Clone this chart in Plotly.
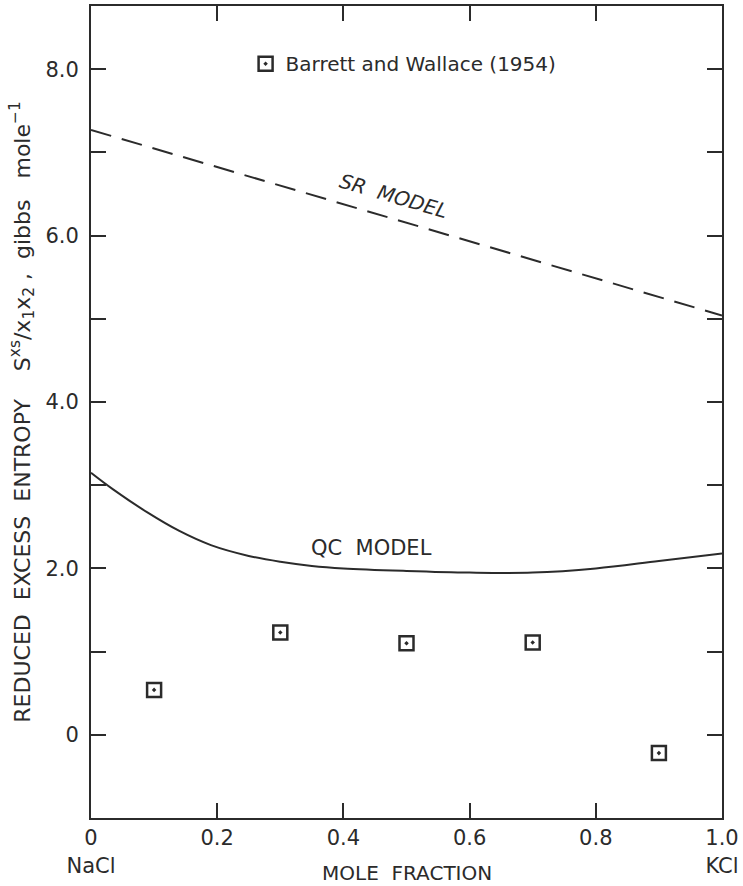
import plotly.graph_objects as go

# ---- data ----
sr_x = [0.0, 1.0]
sr_y = [7.27, 5.04]

qc_x = [0.0, 0.035, 0.09, 0.14, 0.19, 0.25, 0.30, 0.35, 0.40, 0.50, 0.60, 0.70, 0.80, 0.90, 1.0]
qc_y = [3.15, 2.95, 2.67, 2.45, 2.28, 2.15, 2.08, 2.03, 2.00, 1.97, 1.95, 1.95, 2.00, 2.09, 2.18]

bw_x = [0.1, 0.3, 0.5, 0.7, 0.9]
bw_y = [0.54, 1.23, 1.10, 1.11, -0.22]

x_tickvals = [0, 0.2, 0.4, 0.6, 0.8, 1.0]
x_ticktext = ["0<br>NaCl", "0.2", "0.4", "0.6", "0.8", "1.0<br>KCl"]
y_tickvals = [0, 2, 4, 6, 8]
y_ticktext = ["0", "2.0", "4.0", "6.0", "8.0"]

INK = "#2b2b2b"
FONT = "DejaVu Sans"
NB = "\u00a0"

fig = go.Figure()
fig.add_trace(go.Scatter(x=sr_x, y=sr_y, mode="lines",
                         line=dict(color=INK, width=2, dash="21px,11px"),
                         showlegend=False, hoverinfo="skip"))
fig.add_trace(go.Scatter(x=qc_x, y=qc_y, mode="lines",
                         line=dict(color=INK, width=2, shape="spline", smoothing=1.0),
                         showlegend=False, hoverinfo="skip"))
fig.add_trace(go.Scatter(x=bw_x, y=bw_y, mode="markers",
                         name="Barrett" + NB + "and" + NB + "Wallace" + NB + "(1954)",
                         marker=dict(symbol="square-open-dot", size=14,
                                     color=INK, line=dict(color=INK, width=2.5))))

fig.add_annotation(x=0.48, y=6.48, text="<i>SR" + NB * 2 + "MODEL</i>", showarrow=False,
                   textangle=16.4, font=dict(family=FONT, size=20, color=INK))
fig.add_annotation(x=0.444, y=2.25, text="QC" + NB * 2 + "MODEL", showarrow=False,
                   font=dict(family=FONT, size=21, color=INK))
fig.add_annotation(x=0.5, y=0, xref="paper", yref="paper", yanchor="middle",
                   yshift=-55, text="MOLE" + NB * 2 + "FRACTION", showarrow=False,
                   font=dict(family=FONT, size=20, color=INK))

axis_common = dict(showgrid=False, zeroline=False, showline=True, linecolor=INK,
                   linewidth=2, mirror="ticks", ticks="inside", tickcolor=INK,
                   tickwidth=1.5, ticklen=15,
                   tickfont=dict(family=FONT, size=21, color=INK))

fig.update_xaxes(range=[0, 1.0], tickvals=x_tickvals, ticktext=x_ticktext,
                 ticklabelstandoff=0, **axis_common)
ytitle = ("REDUCED" + NB * 2 + "EXCESS" + NB * 2 + "ENTROPY" + NB * 4 +
          "S<sup>xs</sup>/x<sub>1</sub>x<sub>2</sub>" + NB + "," + NB * 2 +
          "gibbs" + NB * 3 + "mole<sup>−1</sup>")
fig.update_yaxes(range=[-1.0, 8.76], tickvals=y_tickvals, ticktext=y_ticktext,
                 ticklabelstandoff=6,
                 minor=dict(tickvals=[1, 3, 5, 7], ticks="inside", ticklen=15,
                            tickcolor=INK, tickwidth=1.5),
                 title=dict(text=ytitle, font=dict(family=FONT, size=22, color=INK), standoff=9),
                 **axis_common)

fig.update_layout(width=743, height=886,
                  margin=dict(l=91, r=21, t=6, b=68, autoexpand=False),
                  paper_bgcolor="white", plot_bgcolor="white",
                  legend=dict(x=0.245, y=0.953, xanchor="left", yanchor="top",
                              bgcolor="rgba(0,0,0,0)",
                              font=dict(family=FONT, size=20, color=INK)),
                  font=dict(family=FONT, color=INK))

fig.write_html("out.html", config={"displayModeBar": False},
               post_script="document.body.style.margin='0';document.body.style.overflow='hidden';")
